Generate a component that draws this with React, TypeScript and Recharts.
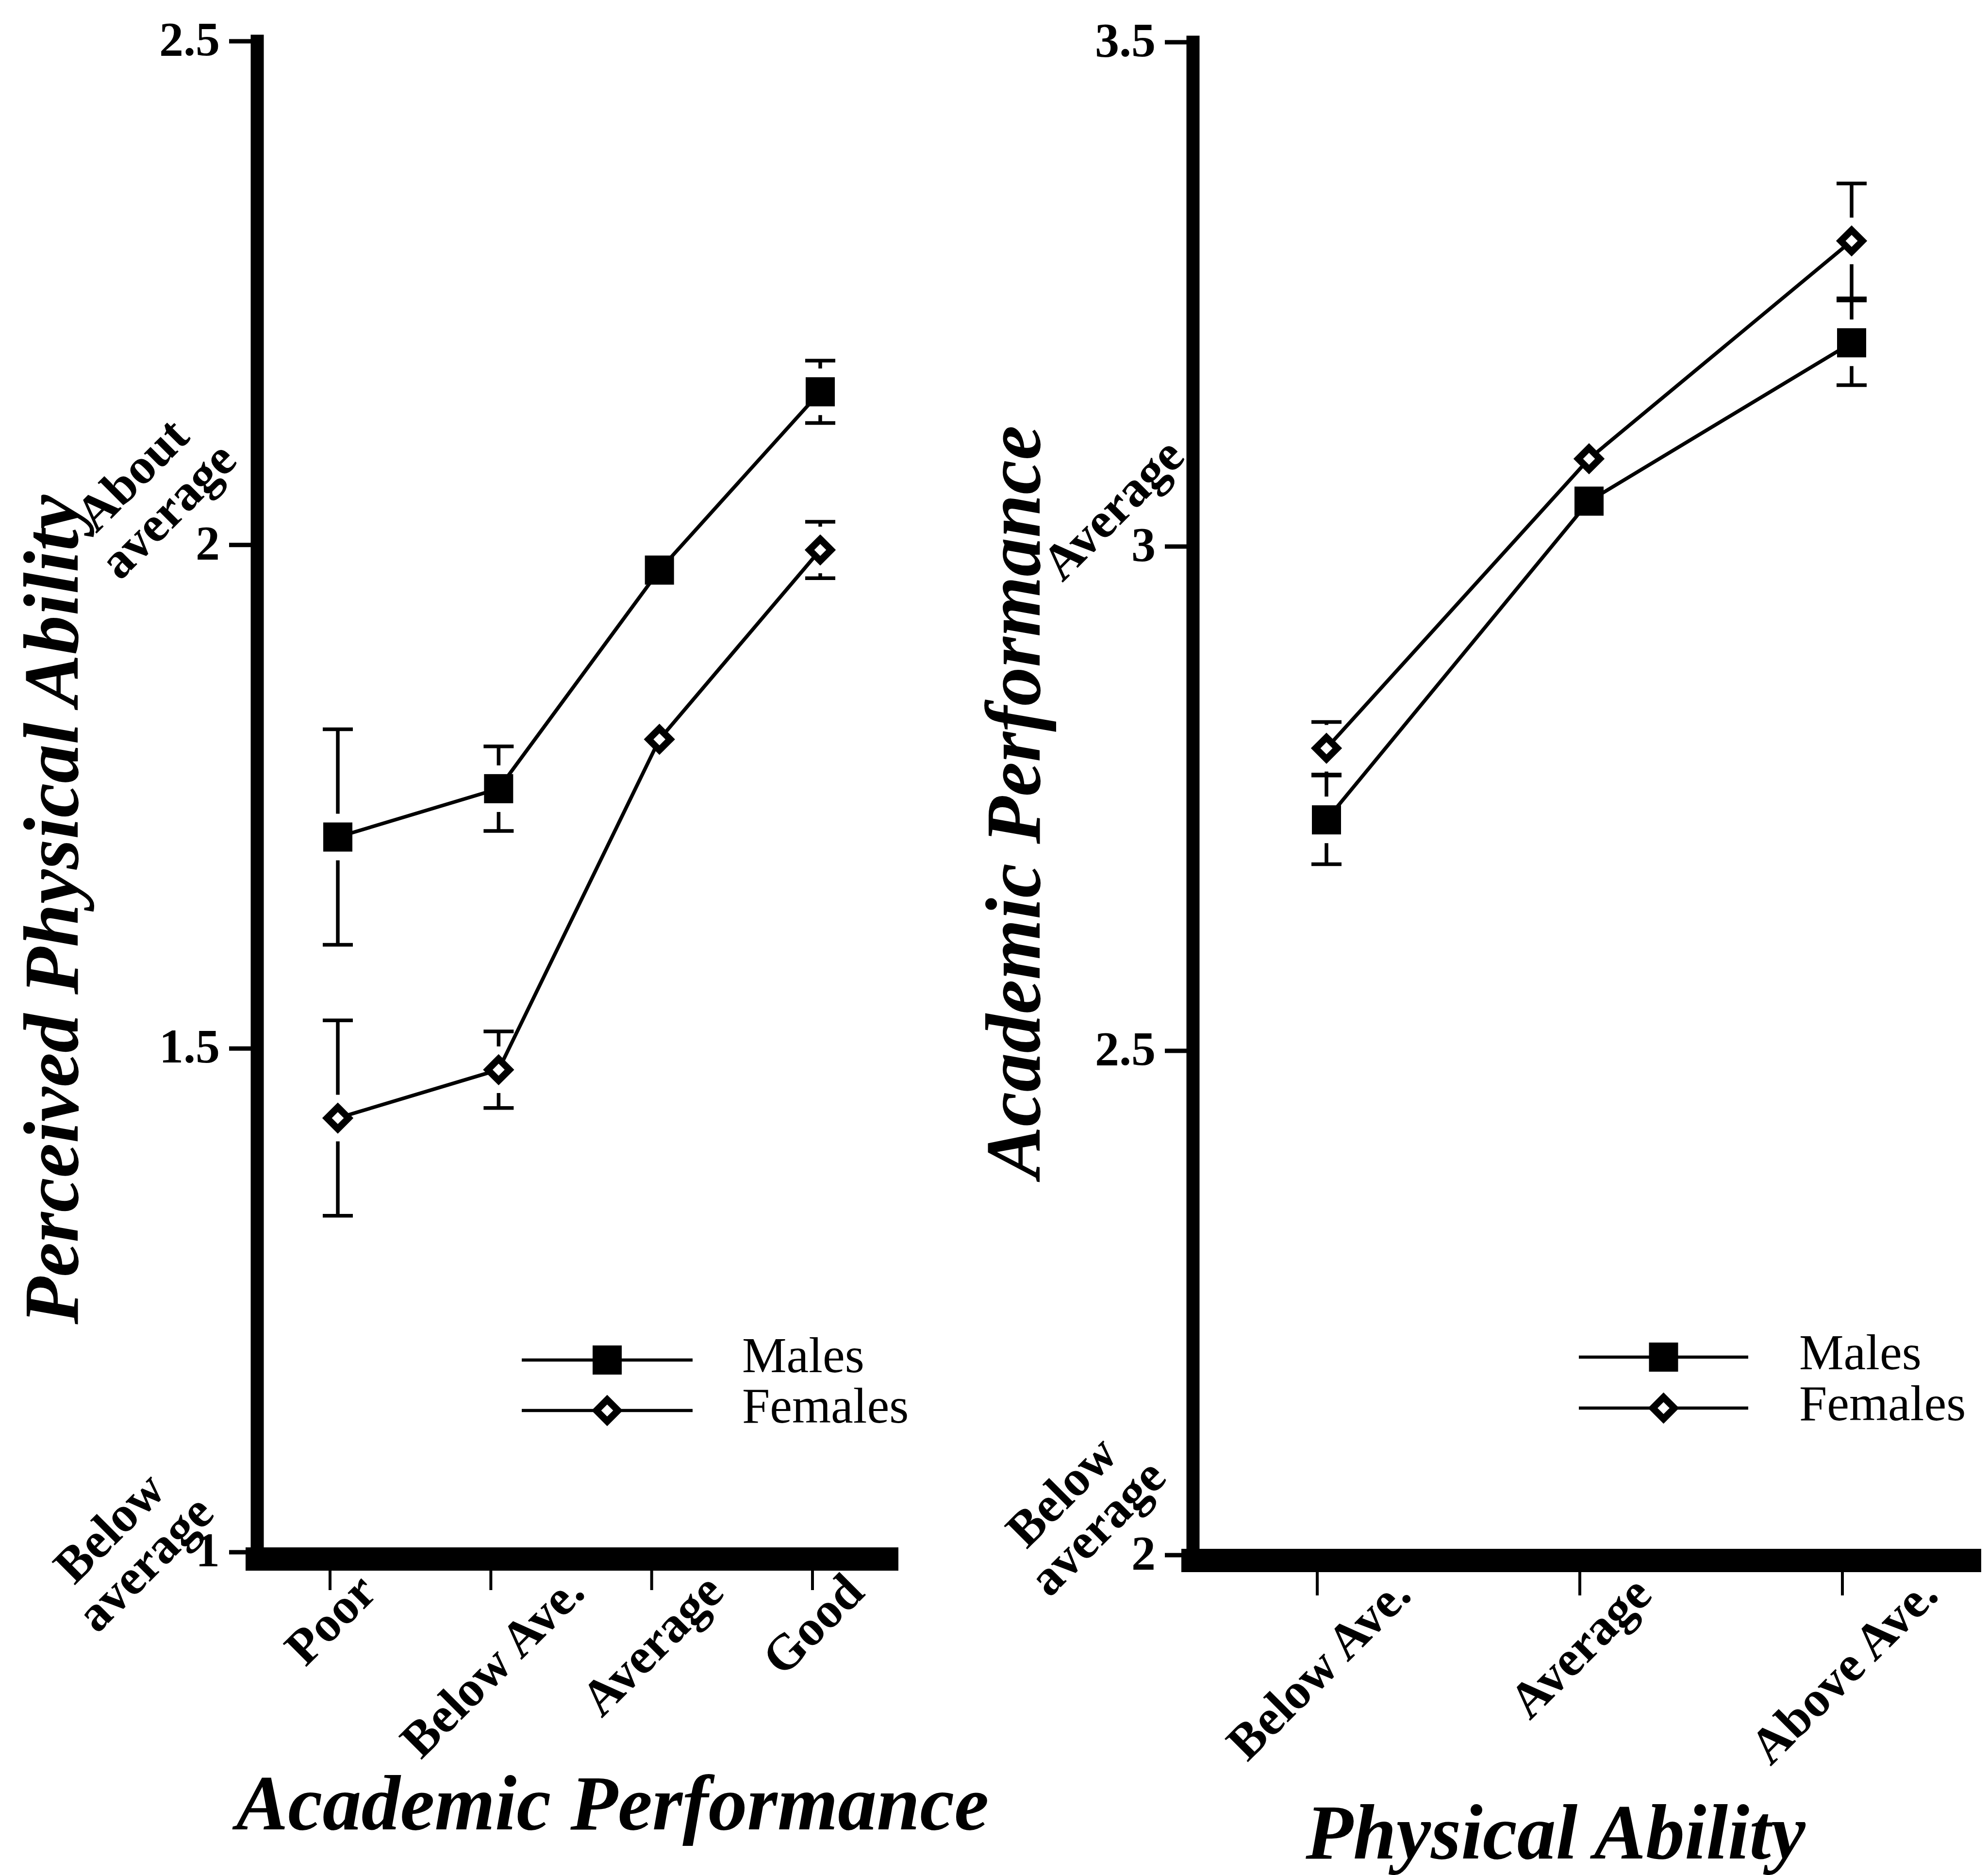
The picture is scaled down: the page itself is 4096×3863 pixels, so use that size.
import React from 'react';
import { LineChart, Line, XAxis, YAxis, ErrorBar, Legend, Label } from 'recharts';

const FONT = '"Liberation Serif", "Times New Roman", Times, serif';

// Panel 1: perceived physical ability by academic performance
const academicLevels = ['Poor', 'Below Ave.', 'Average', 'Good'];
const malesByAcademic = [1.71, 1.758, 1.975, 2.152];
const malesByAcademicErr = [0.107, 0.042, 0, 0.031];
const femalesByAcademic = [1.431, 1.479, 1.807, 1.995];
const femalesByAcademicErr = [0.097, 0.038, 0, 0.028];
const perceivedTicks = [1, 1.5, 2, 2.5];

// Panel 2: academic performance by physical ability
const physicalLevels = ['Below Ave.', 'Average', 'Above Ave.'];
const malesByPhysical = [2.729, 3.045, 3.202];
const malesByPhysicalErr = [0.044, 0, 0.042];
const femalesByPhysical = [2.8, 3.087, 3.303];
const femalesByPhysicalErr = [0.026, 0, 0.057];
const academicTicks = [2, 2.5, 3, 3.5];

const seriesNames = ['Males', 'Females'];

// verbal anchors written next to some of the value ticks
const perceivedAnchors = [
  { value: 2, lines: ['About', 'average'], dx: -197, dy: -84 },
  { value: 1, lines: ['Below', 'average'], dx: -244, dy: 10 },
];
const academicAnchors = [
  { value: 3, lines: ['Average'], dx: -141, dy: -53 },
  { value: 2, lines: ['Below', 'average'], dx: -210, dy: -70 },
];

const buildRows = (cats, m, mErr, f, fErr) =>
  cats.map((c, i) => ({ category: c, males: m[i], malesErr: mErr[i], females: f[i], femalesErr: fErr[i] }));

let measureCtx = null;
const textWidth = (text, font) => {
  if (!measureCtx) measureCtx = document.createElement('canvas').getContext('2d');
  measureCtx.font = font;
  return measureCtx.measureText(text).width;
};

const SQUARE = 60;
const DIAMOND = 22.25;
const LINE_W = 7.5;

const squareShape = (cx, cy) => (
  <rect x={cx - SQUARE / 2} y={cy - SQUARE / 2} width={SQUARE} height={SQUARE} fill="#000" />
);
const diamondShape = (cx, cy) => (
  <path
    d={`M${cx} ${cy - DIAMOND} L${cx + DIAMOND} ${cy} L${cx} ${cy + DIAMOND} L${cx - DIAMOND} ${cy} Z`}
    fill="#fff"
    stroke="#000"
    strokeWidth={14}
    strokeLinejoin="miter"
  />
);

// white gap above and below each marker, so the error bar stems stop short of it
const halo = (cx, cy) => <rect x={cx - 7} y={cy - 48} width={14} height={96} fill="#fff" />;

const SquareDot = (props) => {
  const { cx, cy, index } = props;
  if (cx == null || cy == null) return <g key={`s${index}`} />;
  return (
    <g key={`s${index}`}>
      {halo(cx, cy)}
      {squareShape(cx, cy)}
    </g>
  );
};

const DiamondDot = (props) => {
  const { cx, cy, index } = props;
  if (cx == null || cy == null) return <g key={`d${index}`} />;
  return (
    <g key={`d${index}`}>
      {halo(cx, cy)}
      {diamondShape(cx, cy)}
    </g>
  );
};

const RotatedBlock = ({ cx, cy, lines }) => (
  <text
    transform={`rotate(-45 ${cx} ${cy})`}
    fontFamily={FONT}
    fontWeight="bold"
    fontSize={104}
    textAnchor="middle"
    fill="#000"
  >
    {lines.map((l, i) => (
      <tspan key={i} x={cx} y={cy + (i - (lines.length - 1) / 2) * 104}>
        {l}
      </tspan>
    ))}
  </text>
);

const makeValueTick = (anchors) => (props) => {
  const { x, y, payload } = props;
  const note = anchors.find((a) => a.value === payload.value);
  return (
    <g>
      <line x1={x - 58} x2={x} y1={y} y2={y} stroke="#000" strokeWidth={9} />
      <text x={x - 77} y={y + 29} textAnchor="end" fontFamily={FONT} fontWeight="bold" fontSize={100} fill="#000">
        {String(payload.value)}
      </text>
      {note && <RotatedBlock cx={x + note.dx} cy={y + note.dy} lines={note.lines} />}
    </g>
  );
};

const CAT_FONT_SIZE = 104;
const makeCategoryTick = (shift, tickLen, drop) => (props) => {
  const { x, y, payload } = props;
  const tx = x - shift;
  const label = String(payload.value);
  const w = textWidth(label, `bold ${CAT_FONT_SIZE}px "Liberation Serif"`);
  const ex = tx + 0.3535 * w + 25;
  const ey = y + drop;
  return (
    <g>
      <line x1={tx} x2={tx} y1={y} y2={y + tickLen} stroke="#000" strokeWidth={6} />
      <text
        x={ex}
        y={ey}
        textAnchor="end"
        transform={`rotate(-45 ${ex} ${ey})`}
        fontFamily={FONT}
        fontWeight="bold"
        fontSize={CAT_FONT_SIZE}
        fill="#000"
      >
        {label}
      </text>
    </g>
  );
};

const LegendBox = ({ payload, lineLen, textOffset, rowGap }) => {
  const items = [...(payload || [])].sort(
    (a, b) => seriesNames.indexOf(a.value) - seriesNames.indexOf(b.value)
  );
  const x0 = 20;
  const y0 = 80;
  return (
    <svg width={1000} height={300} style={{ display: 'block', overflow: 'visible' }}>
      {items.map((it, i) => {
        const yy = y0 + i * rowGap;
        const mx = x0 + lineLen / 2;
        return (
          <g key={it.value}>
            <line x1={x0} x2={x0 + lineLen} y1={yy} y2={yy} stroke="#000" strokeWidth={6.5} />
            {i === 0 ? squareShape(mx, yy) : diamondShape(mx, yy)}
            <text x={x0 + textOffset} y={yy + 25} fontFamily={FONT} fontSize={103} fill="#000">
              {it.value}
            </text>
          </g>
        );
      })}
    </svg>
  );
};

const Panel = ({ cfg }) => (
  <LineChart
    width={cfg.width}
    height={3863}
    data={cfg.rows}
    margin={{ top: cfg.top, right: cfg.right, bottom: 0, left: 0 }}
  >
    <XAxis
      dataKey="category"
      type="category"
      scale="point"
      padding={cfg.padding}
      height={cfg.xAxisHeight}
      interval={0}
      tickSize={0}
      tickMargin={0}
      tickLine={false}
      axisLine={{ stroke: '#000', strokeWidth: 48, strokeLinecap: 'square', transform: `translate(0 ${cfg.bandDrop})` }}
      tick={makeCategoryTick(cfg.tickShift, cfg.tickLen, cfg.labelDrop)}
    >
      <Label
        content={() => (
          <text
            x={cfg.xTitle.x}
            y={cfg.xTitle.y}
            textAnchor="middle"
            fontFamily={FONT}
            fontWeight="bold"
            fontStyle="italic"
            fontSize={160}
            fill="#000"
          >
            {cfg.xTitle.text}
          </text>
        )}
      />
    </XAxis>
    <YAxis
      type="number"
      domain={cfg.domain}
      ticks={cfg.ticks}
      width={cfg.yAxisWidth}
      interval={0}
      tickSize={0}
      tickMargin={0}
      tickLine={false}
      axisLine={{ stroke: '#000', strokeWidth: 27, strokeLinecap: 'square' }}
      tick={makeValueTick(cfg.anchors)}
    >
      <Label
        content={() => (
          <text
            x={cfg.yTitle.x}
            y={cfg.yTitle.y}
            transform={`rotate(-90 ${cfg.yTitle.x} ${cfg.yTitle.y})`}
            textAnchor="middle"
            fontFamily={FONT}
            fontWeight="bold"
            fontStyle="italic"
            fontSize={160}
            fill="#000"
          >
            {cfg.yTitle.text}
          </text>
        )}
      />
    </YAxis>
    <Legend
      layout="vertical"
      align="center"
      verticalAlign="middle"
      wrapperStyle={{ left: cfg.legend.x - 20, top: cfg.legend.y - 80, width: 1000, height: 300 }}
      content={(p) => (
        <LegendBox
          payload={p.payload}
          lineLen={cfg.legend.lineLen}
          textOffset={cfg.legend.textOffset}
          rowGap={cfg.legend.rowGap}
        />
      )}
    />
    <Line
      type="linear"
      dataKey="males"
      name={seriesNames[0]}
      stroke="#000"
      strokeWidth={LINE_W}
      dot={SquareDot}
      activeDot={false}
      isAnimationActive={false}
    >
      <ErrorBar dataKey="malesErr" direction="y" width={31} strokeWidth={7.5} stroke="#000" isAnimationActive={false} />
    </Line>
    <Line
      type="linear"
      dataKey="females"
      name={seriesNames[1]}
      stroke="#000"
      strokeWidth={LINE_W}
      dot={DiamondDot}
      activeDot={false}
      isAnimationActive={false}
    >
      <ErrorBar dataKey="femalesErr" direction="y" width={31} strokeWidth={7.5} stroke="#000" isAnimationActive={false} />
    </Line>
  </LineChart>
);

const leftPanel = {
  left: 0,
  width: 2048,
  rows: buildRows(academicLevels, malesByAcademic, malesByAcademicErr, femalesByAcademic, femalesByAcademicErr),
  top: 85,
  right: 221,
  yAxisWidth: 530,
  xAxisHeight: 665,
  padding: { left: 166, right: 137 },
  domain: [1, 2.5],
  ticks: perceivedTicks,
  anchors: perceivedAnchors,
  bandDrop: 14,
  tickShift: 16,
  tickLen: 78,
  labelDrop: 87,
  xTitle: { text: 'Academic Performance', x: 1262, y: 3769 },
  yTitle: { text: 'Perceived Physical Ability', x: 160, y: 1874 },
  legend: { x: 1075, y: 2802, lineLen: 352, textOffset: 454, rowGap: 104 },
};

// the second panel starts a little left of the page middle so its rotated title stays inside its own svg
const rightPanel = {
  left: 1850,
  width: 2246,
  rows: buildRows(physicalLevels, malesByPhysical, malesByPhysicalErr, femalesByPhysical, femalesByPhysicalErr),
  top: 87,
  right: 38,
  yAxisWidth: 608,
  xAxisHeight: 659,
  padding: { left: 275, right: 243 },
  domain: [2, 3.5],
  ticks: academicTicks,
  anchors: academicAnchors,
  bandDrop: 11,
  tickShift: 19,
  tickLen: 83,
  labelDrop: 86,
  xTitle: { text: 'Physical Ability', x: 1355, y: 3829 },
  yTitle: { text: 'Academic Performance', x: 292, y: 1652 },
  legend: { x: 1403, y: 2796, lineLen: 349, textOffset: 454, rowGap: 105 },
};

export default function App() {
  return (
    <div style={{ position: 'absolute', left: 0, top: 0, width: 4096, height: 3863, background: '#fff', overflow: 'hidden' }}>
      <div style={{ position: 'absolute', left: leftPanel.left, top: 0 }}>
        <Panel cfg={leftPanel} />
      </div>
      <div style={{ position: 'absolute', left: rightPanel.left, top: 0 }}>
        <Panel cfg={rightPanel} />
      </div>
    </div>
  );
}
